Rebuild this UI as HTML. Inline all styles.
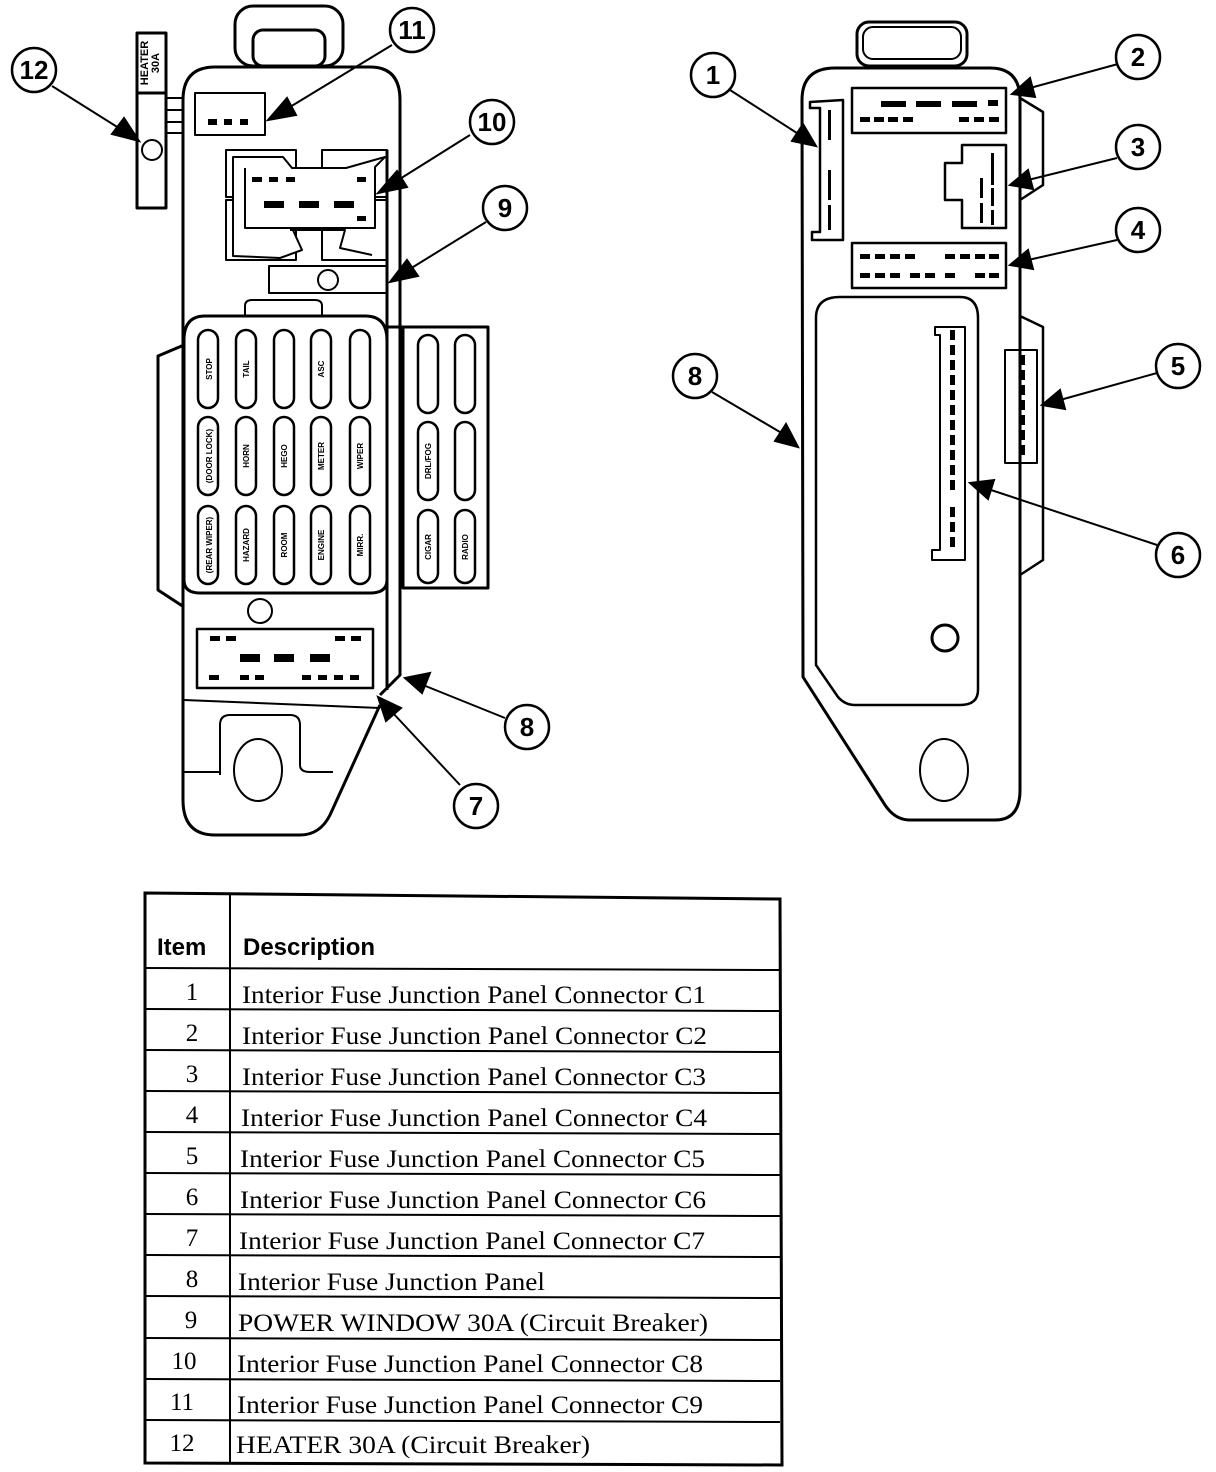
<!DOCTYPE html>
<html><head><meta charset="utf-8"><style>
html,body{margin:0;padding:0;background:#fff}
svg{display:block}
.t{font-family:"Liberation Serif",serif;font-size:25px}
.h{font-family:"Liberation Sans",sans-serif;font-size:24px;font-weight:bold}
.n{font-family:"Liberation Sans",sans-serif;font-size:26px;font-weight:bold}
.f{font-family:"Liberation Sans",sans-serif;font-size:8px;font-weight:bold}
</style></head><body>
<svg width="1216" height="1472" viewBox="0 0 1216 1472" xmlns="http://www.w3.org/2000/svg">
<defs>
<marker id="ah" viewBox="0 0 10 10" refX="9" refY="5" markerWidth="7" markerHeight="7" orient="auto" markerUnits="userSpaceOnUse">
</marker>
</defs>
<g fill="none" stroke="#000" stroke-width="3" stroke-linejoin="round">
<!-- LEFT PANEL -->
<rect x="235" y="6" width="108" height="60" rx="18"/>
<rect x="253" y="30" width="72" height="36" rx="10"/>
<path d="M183 100 Q183 67 215 67 L370 67 Q400 67 400 100 L400 675 L380 695"/>
<path d="M183 100 L183 800 Q183 835 215 835 L300 835 Q320 835 330 815 L380 705"/>
<line x1="387" y1="150" x2="387" y2="690"/>
<!-- heater -->
<rect x="137" y="33" width="29" height="175"/>
<line x1="137" y1="93" x2="166" y2="93"/>
<circle cx="152" cy="150" r="10" stroke-width="2"/>
<line x1="166" y1="98" x2="183" y2="98" stroke-width="2"/>
<line x1="166" y1="110" x2="183" y2="110" stroke-width="2"/>
<line x1="166" y1="122" x2="183" y2="122" stroke-width="2"/>
<line x1="166" y1="133" x2="183" y2="133" stroke-width="2"/>
<!-- C9 -->
<rect x="195" y="93" width="70" height="42" stroke-width="2"/>
<!-- C8 -->
<rect x="226" y="150" width="70" height="47" stroke-width="2"/>
<rect x="322" y="150" width="65" height="47" stroke-width="2"/>
<rect x="226" y="200" width="70" height="60" stroke-width="2"/>
<rect x="322" y="200" width="65" height="60" stroke-width="2"/>
<path d="M233 157 L283 157 L292 168 L346 168 L385 157 L375 167 L375 228 L292 228 L302 250 L280 258 L233 256 Z" fill="#fff" stroke-width="2"/>
<path d="M245 168 L245 228 L375 228 M290 230 L345 230 L340 248 L372 255" stroke-width="2"/>
<!-- C9 circuit breaker -->
<rect x="269" y="266" width="118" height="27" stroke-width="2"/>
<circle cx="328" cy="280" r="10" stroke-width="2"/>
<!-- fuse panel -->
<path d="M245 316 L245 306 Q245 300 252 300 L315 300 Q322 300 322 306 L322 316" stroke-width="2"/>
<path d="M184 340 Q184 316 205 316 L365 316 Q387 316 387 340 L387 580 Q387 593 370 593 L200 593 Q184 593 184 580 Z"/>
<path d="M184 345 L158 356 L158 590 L184 607"/>
<rect x="403" y="327" width="85" height="261"/>
<line x1="387" y1="327" x2="403" y2="327"/>
<g stroke-width="2.5">
<rect x="198" y="330" width="20" height="78" rx="10"/>
<rect x="236" y="330" width="20" height="78" rx="10"/>
<rect x="274" y="330" width="20" height="78" rx="10"/>
<rect x="311" y="330" width="20" height="78" rx="10"/>
<rect x="350" y="330" width="20" height="78" rx="10"/>
<rect x="198" y="417" width="20" height="78" rx="10"/>
<rect x="236" y="417" width="20" height="78" rx="10"/>
<rect x="274" y="417" width="20" height="78" rx="10"/>
<rect x="311" y="417" width="20" height="78" rx="10"/>
<rect x="350" y="417" width="20" height="78" rx="10"/>
<rect x="198" y="506" width="20" height="78" rx="10"/>
<rect x="236" y="506" width="20" height="78" rx="10"/>
<rect x="274" y="506" width="20" height="78" rx="10"/>
<rect x="311" y="506" width="20" height="78" rx="10"/>
<rect x="350" y="506" width="20" height="78" rx="10"/>
<rect x="418" y="335" width="20" height="78" rx="10"/>
<rect x="455" y="335" width="20" height="78" rx="10"/>
<rect x="418" y="422" width="20" height="78" rx="10"/>
<rect x="455" y="422" width="20" height="78" rx="10"/>
<rect x="418" y="510" width="20" height="73" rx="10"/>
<rect x="455" y="510" width="20" height="73" rx="10"/>
</g>
<circle cx="260" cy="611" r="12" stroke-width="2"/>
<rect x="197" y="629" width="176" height="59" stroke-width="2.5"/>
<line x1="184" y1="700" x2="380" y2="708" stroke-width="2"/>
<path d="M220 775 L220 725 Q220 715 230 715 L290 715 Q300 715 300 725 L300 765 Q300 772 310 772 L333 772" stroke-width="2"/>
<line x1="184" y1="772" x2="220" y2="772" stroke-width="2"/>
<ellipse cx="258" cy="770" rx="24" ry="31" stroke-width="2"/>

<!-- RIGHT PANEL -->
<rect x="857" y="22" width="110" height="44" rx="12"/>
<rect x="863" y="27" width="98" height="32" rx="10" stroke-width="2"/>
<path d="M802 100 Q802 68 835 68 L990 68 Q1020 68 1020 100 L1020 575 L1020 790 Q1020 820 995 820 L910 820 Q895 820 885 805 L803 677 Z"/>
<path d="M1020 98 L1043 112 L1043 185 L1020 200" stroke-width="2.5"/>
<path d="M1020 316 L1043 327 L1043 560 L1020 575" stroke-width="2.5"/>
<path d="M816 318 Q816 297 840 297 L960 297 Q978 297 978 318 L978 690 Q978 705 960 705 L855 705 Q845 705 838 697 L816 665 Z" stroke-width="2.5"/>
<rect x="852" y="88" width="154" height="45" stroke-width="2.5"/>
<path d="M810 102 L843 100 L843 240 L812 240 L812 232 L820 232 L820 108 L810 108 Z" stroke-width="2.5"/>
<path d="M962 145 L1006 145 L1006 228 L962 228 L962 200 L945 200 L945 163 L962 163 Z" stroke-width="2.5"/>
<rect x="852" y="243" width="154" height="45" stroke-width="2.5"/>
<path d="M935 327 L965 327 L965 560 L932 560 L932 550 L940 550 L940 335 L935 335 Z" stroke-width="2"/>
<rect x="1005" y="350" width="32" height="113" stroke-width="2"/>
<circle cx="945" cy="638" r="13" stroke-width="3"/>
<ellipse cx="944" cy="770" rx="24" ry="31" stroke-width="2"/>
</g>

<!-- connector pins (filled) -->
<g fill="#000">
<rect x="208" y="119" width="9" height="6"/><rect x="224" y="119" width="8" height="6"/><rect x="240" y="119" width="8" height="6"/>
<rect x="252" y="177" width="10" height="5"/><rect x="269" y="177" width="9" height="5"/><rect x="286" y="177" width="9" height="5"/><rect x="357" y="177" width="9" height="5"/>
<rect x="264" y="201" width="20" height="7"/><rect x="299" y="201" width="20" height="7"/><rect x="334" y="201" width="20" height="7"/><rect x="357" y="216" width="9" height="5"/>
<rect x="210" y="636" width="10" height="5"/><rect x="226" y="636" width="10" height="5"/><rect x="335" y="636" width="10" height="5"/><rect x="351" y="636" width="10" height="5"/>
<rect x="240" y="654" width="20" height="8"/><rect x="274" y="654" width="20" height="8"/><rect x="310" y="654" width="20" height="8"/>
<rect x="209" y="675" width="10" height="5"/><rect x="240" y="675" width="9" height="5"/><rect x="255" y="675" width="9" height="5"/><rect x="302" y="675" width="9" height="5"/><rect x="318" y="675" width="9" height="5"/><rect x="334" y="675" width="9" height="5"/><rect x="350" y="675" width="9" height="5"/>
<rect x="881" y="101" width="25" height="6"/><rect x="916" y="101" width="25" height="6"/><rect x="952" y="101" width="25" height="6"/><rect x="988" y="100" width="10" height="6"/>
<rect x="860" y="117" width="10" height="5"/><rect x="874" y="117" width="10" height="5"/><rect x="888" y="117" width="10" height="5"/><rect x="903" y="117" width="10" height="5"/><rect x="959" y="117" width="10" height="5"/><rect x="974" y="117" width="10" height="5"/><rect x="989" y="117" width="10" height="5"/>
<rect x="828" y="110" width="3" height="30"/><rect x="828" y="170" width="3" height="30"/><rect x="828" y="205" width="3" height="25"/>
<rect x="991" y="153" width="3" height="32"/><rect x="980" y="178" width="3" height="20"/><rect x="991" y="188" width="3" height="18"/><rect x="980" y="203" width="3" height="20"/><rect x="991" y="210" width="3" height="15"/>
<rect x="860" y="254" width="10" height="5"/><rect x="875" y="254" width="10" height="5"/><rect x="890" y="254" width="10" height="5"/><rect x="905" y="254" width="10" height="5"/><rect x="945" y="254" width="10" height="5"/><rect x="960" y="254" width="10" height="5"/><rect x="975" y="254" width="10" height="5"/><rect x="989" y="254" width="10" height="5"/>
<rect x="860" y="273" width="10" height="5"/><rect x="875" y="273" width="10" height="5"/><rect x="890" y="273" width="10" height="5"/><rect x="910" y="273" width="10" height="5"/><rect x="925" y="273" width="10" height="5"/><rect x="945" y="273" width="10" height="5"/><rect x="975" y="273" width="10" height="5"/><rect x="989" y="273" width="10" height="5"/>
<g>
<rect x="950" y="330" width="5" height="10"/><rect x="950" y="345" width="5" height="10"/><rect x="950" y="360" width="5" height="10"/><rect x="950" y="375" width="5" height="10"/><rect x="950" y="390" width="5" height="10"/><rect x="950" y="405" width="5" height="10"/><rect x="950" y="420" width="5" height="10"/><rect x="950" y="435" width="5" height="10"/><rect x="950" y="450" width="5" height="10"/><rect x="950" y="465" width="5" height="10"/><rect x="950" y="480" width="5" height="10"/><rect x="950" y="507" width="5" height="10"/><rect x="950" y="522" width="5" height="10"/><rect x="950" y="537" width="5" height="10"/>
<rect x="1020" y="355" width="5" height="10"/><rect x="1020" y="370" width="5" height="10"/><rect x="1020" y="385" width="5" height="10"/><rect x="1020" y="400" width="5" height="10"/><rect x="1020" y="415" width="5" height="10"/><rect x="1020" y="430" width="5" height="10"/><rect x="1020" y="445" width="5" height="10"/>
</g>
</g>

<!-- fuse labels -->
<g class="f" text-anchor="middle">
<text transform="translate(212,369) rotate(-90)">STOP</text>
<text transform="translate(249,369) rotate(-90)">TAIL</text>
<text transform="translate(324,369) rotate(-90)">ASC</text>
<text transform="translate(212,456) rotate(-90)">(DOOR LOCK)</text>
<text transform="translate(249,456) rotate(-90)">HORN</text>
<text transform="translate(287,456) rotate(-90)">HEGO</text>
<text transform="translate(324,456) rotate(-90)">METER</text>
<text transform="translate(363,456) rotate(-90)">WIPER</text>
<text transform="translate(212,545) rotate(-90)">(REAR WIPER)</text>
<text transform="translate(249,545) rotate(-90)">HAZARD</text>
<text transform="translate(287,545) rotate(-90)">ROOM</text>
<text transform="translate(324,545) rotate(-90)">ENGINE</text>
<text transform="translate(363,545) rotate(-90)">MIRR.</text>
<text transform="translate(431,461) rotate(-90)">DRL/FOG</text>
<text transform="translate(431,547) rotate(-90)">CIGAR</text>
<text transform="translate(468,547) rotate(-90)">RADIO</text>
<text transform="translate(148,63) rotate(-90)" font-size="11">HEATER</text>
<text transform="translate(159,63) rotate(-90)" font-size="11">30A</text>
</g>

<!-- callouts -->
<g stroke="#000" stroke-width="2" fill="#000">
<line x1="52" y1="86" x2="122" y2="130"/><polygon points="139,141 112,134 124,118"/>
<line x1="392" y1="45" x2="285" y2="110"/><polygon points="268,120 287,98 296,115"/>
<line x1="470" y1="135" x2="395" y2="182"/><polygon points="378,193 397,171 407,187"/>
<line x1="486" y1="222" x2="405" y2="272"/><polygon points="390,282 407,260 418,276"/>
<line x1="505" y1="718" x2="423" y2="685"/><polygon points="405,678 430,673 422,693"/>
<line x1="460" y1="785" x2="392" y2="712"/><polygon points="378,697 401,708 386,721"/>
<line x1="730" y1="90" x2="800" y2="135"/><polygon points="816,146 792,141 803,124"/>
<line x1="1118" y1="64" x2="1030" y2="88"/><polygon points="1012,94 1030,78 1035,97"/>
<line x1="1117" y1="158" x2="1028" y2="180"/><polygon points="1010,185 1028,170 1033,189"/>
<line x1="1117" y1="240" x2="1028" y2="260"/><polygon points="1010,265 1028,250 1033,269"/>
<line x1="1157" y1="373" x2="1060" y2="400"/><polygon points="1042,405 1060,390 1065,409"/>
<line x1="1157" y1="545" x2="988" y2="489"/><polygon points="970,483 994,480 988,499"/>
<line x1="712" y1="392" x2="785" y2="435"/><polygon points="798,447 775,441 786,424"/>
</g>
<g fill="#fff" stroke="#000" stroke-width="2.5">
<circle cx="34" cy="70" r="22"/><circle cx="412" cy="30" r="22"/><circle cx="492" cy="122" r="22"/>
<circle cx="505" cy="208" r="22"/><circle cx="527" cy="727" r="22"/><circle cx="476" cy="806" r="22"/>
<circle cx="713" cy="75" r="22"/><circle cx="1138" cy="57" r="22"/><circle cx="1138" cy="147" r="22"/>
<circle cx="1138" cy="230" r="22"/><circle cx="1178" cy="366" r="22"/><circle cx="1178" cy="555" r="22"/>
<circle cx="695" cy="376" r="22"/>
</g>
<g class="n" text-anchor="middle">
<text x="34" y="79">12</text><text x="412" y="39">11</text><text x="492" y="131">10</text>
<text x="505" y="217">9</text><text x="527" y="736">8</text><text x="476" y="815">7</text>
<text x="713" y="84">1</text><text x="1138" y="66">2</text><text x="1138" y="156">3</text>
<text x="1138" y="239">4</text><text x="1178" y="375">5</text><text x="1178" y="564">6</text>
<text x="695" y="385">8</text>
</g>

<!-- TABLE -->
<g stroke="#000" fill="none">
<path d="M145 893 L780 899 L782 1465 L145 1463 Z" stroke-width="3"/>
<line x1="230" y1="893" x2="230" y2="1463" stroke-width="2"/>
<g stroke-width="2">
<line x1="145" y1="968" x2="780" y2="970"/>
<line x1="145" y1="1009" x2="780" y2="1011"/>
<line x1="145" y1="1050" x2="780" y2="1052"/>
<line x1="145" y1="1091" x2="780" y2="1093"/>
<line x1="145" y1="1132" x2="780" y2="1134"/>
<line x1="145" y1="1173" x2="780" y2="1175"/>
<line x1="145" y1="1214" x2="780" y2="1216"/>
<line x1="145" y1="1255" x2="780" y2="1257"/>
<line x1="145" y1="1296" x2="780" y2="1298"/>
<line x1="145" y1="1338" x2="780" y2="1340"/>
<line x1="145" y1="1379" x2="780" y2="1381"/>
<line x1="145" y1="1420" x2="780" y2="1422"/>
</g>
</g>
<text class="h" x="157" y="955">Item</text>
<text class="h" x="243" y="955">Description</text>
<g class="t">
<g text-anchor="middle">
<text x="192" y="1000">1</text><text x="192" y="1041">2</text><text x="192" y="1082">3</text>
<text x="192" y="1123">4</text><text x="192" y="1164">5</text><text x="192" y="1205">6</text>
<text x="192" y="1246">7</text><text x="192" y="1287">8</text><text x="191" y="1328">9</text>
<text x="184" y="1369">10</text><text x="182" y="1410">11</text><text x="182" y="1451">12</text>
</g>
<text x="242" y="1003" textLength="464" lengthAdjust="spacingAndGlyphs">Interior Fuse Junction Panel Connector C1</text>
<text x="242" y="1044" textLength="465" lengthAdjust="spacingAndGlyphs">Interior Fuse Junction Panel Connector C2</text>
<text x="242" y="1085" textLength="464" lengthAdjust="spacingAndGlyphs">Interior Fuse Junction Panel Connector C3</text>
<text x="241" y="1126" textLength="466" lengthAdjust="spacingAndGlyphs">Interior Fuse Junction Panel Connector C4</text>
<text x="240" y="1167" textLength="465" lengthAdjust="spacingAndGlyphs">Interior Fuse Junction Panel Connector C5</text>
<text x="240" y="1208" textLength="466" lengthAdjust="spacingAndGlyphs">Interior Fuse Junction Panel Connector C6</text>
<text x="239" y="1249" textLength="466" lengthAdjust="spacingAndGlyphs">Interior Fuse Junction Panel Connector C7</text>
<text x="238" y="1290" textLength="307" lengthAdjust="spacingAndGlyphs">Interior Fuse Junction Panel</text>
<text x="238" y="1331" textLength="470" lengthAdjust="spacingAndGlyphs">POWER WINDOW 30A (Circuit Breaker)</text>
<text x="237" y="1372" textLength="466" lengthAdjust="spacingAndGlyphs">Interior Fuse Junction Panel Connector C8</text>
<text x="237" y="1413" textLength="466" lengthAdjust="spacingAndGlyphs">Interior Fuse Junction Panel Connector C9</text>
<text x="236" y="1453" textLength="354" lengthAdjust="spacingAndGlyphs">HEATER 30A (Circuit Breaker)</text>
</g>
</svg>
</body></html>
